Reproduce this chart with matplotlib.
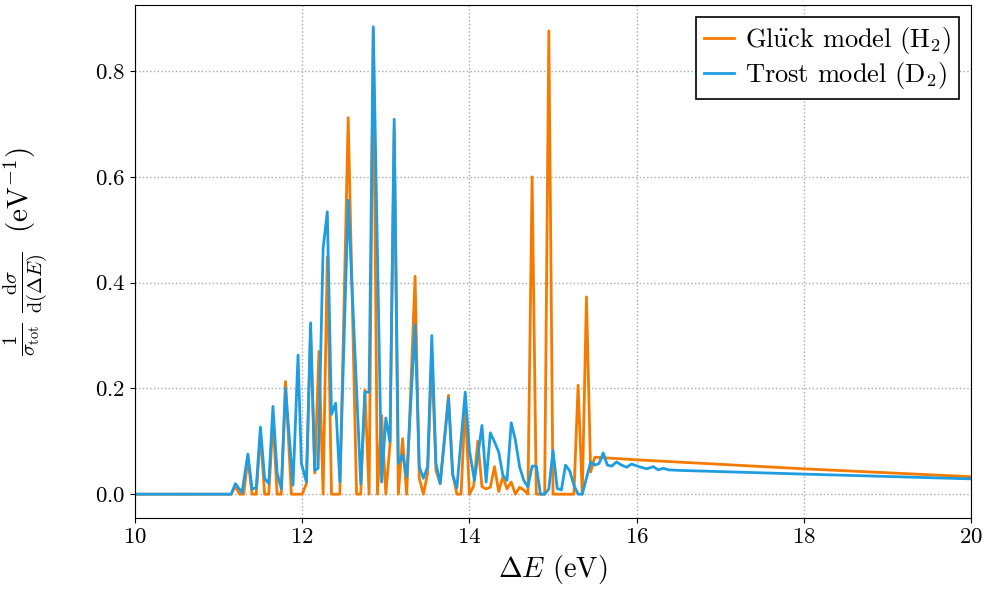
import numpy as np
import matplotlib.pyplot as plt

plt.rcParams['font.family'] = 'serif'
plt.rcParams['font.serif'] = ['cmr10', 'DejaVu Serif']
plt.rcParams['mathtext.fontset'] = 'cm'
plt.rcParams['axes.formatter.use_mathtext'] = True

# Glueck model (H2)
E_glueck = [10.0, 11.15, 11.20, 11.25, 11.30, 11.35, 11.40, 11.45, 11.50, 11.55,
            11.60, 11.65, 11.70, 11.75, 11.80, 11.87, 12.00, 12.05, 12.10, 12.15,
            12.20, 12.25, 12.30, 12.35, 12.45, 12.55, 12.65, 12.70, 12.75, 12.80,
            12.85, 12.90, 12.95, 13.00, 13.05, 13.10, 13.15, 13.20, 13.25, 13.35,
            13.40, 13.45, 13.50, 13.55, 13.60, 13.65, 13.75, 13.80, 13.85, 13.90,
            13.95, 14.00, 14.05, 14.10, 14.15, 14.20, 14.25, 14.30, 14.35, 14.40,
            14.45, 14.50, 14.55, 14.60, 14.65, 14.70, 14.75, 14.80, 14.90, 14.95,
            15.00, 15.25, 15.30, 15.35, 15.40, 15.45, 15.50, 16.0, 18.0, 20.0]
sig_glueck = [0.0, 0.0, 0.015, 0.0, 0.0, 0.068, 0.0, 0.0, 0.115, 0.0,
              0.0, 0.14, 0.0, 0.0, 0.213, 0.0, 0.0, 0.02, 0.31, 0.04,
              0.27, 0.0, 0.449, 0.0, 0.0, 0.712, 0.0, 0.0, 0.197, 0.0,
              0.88, 0.0, 0.149, 0.0, 0.095, 0.69, 0.0, 0.105, 0.0, 0.412,
              0.03, 0.0, 0.04, 0.26, 0.045, 0.02, 0.187, 0.038, 0.0, 0.0,
              0.17, 0.0, 0.015, 0.10, 0.014, 0.01, 0.013, 0.052, 0.005, 0.033,
              0.01, 0.023, 0.0, 0.013, 0.008, 0.0, 0.60, 0.0, 0.0, 0.876,
              0.0, 0.0, 0.206, 0.0, 0.373, 0.042, 0.07, 0.065, 0.048, 0.033]

# Trost model (D2)
E_trost = [10.0, 11.15, 11.20, 11.28, 11.35, 11.40, 11.45, 11.50, 11.55, 11.60,
           11.65, 11.70, 11.75, 11.80, 11.89, 11.95, 11.99, 12.05, 12.10, 12.15,
           12.19, 12.25, 12.30, 12.35, 12.40, 12.45, 12.55, 12.70, 12.75, 12.80,
           12.85, 12.95, 13.00, 13.05, 13.10, 13.15, 13.20, 13.25, 13.35, 13.40,
           13.45, 13.50, 13.55, 13.60, 13.65, 13.75, 13.80, 13.85, 13.95, 14.00,
           14.06, 14.15, 14.20, 14.25, 14.30, 14.35, 14.40, 14.45, 14.50, 14.55,
           14.60, 14.65, 14.70, 14.75, 14.80, 14.85, 14.90, 14.95, 15.00, 15.05,
           15.10, 15.15, 15.20, 15.25, 15.30, 15.35, 15.45, 15.50, 15.55, 15.60,
           15.65, 15.70, 15.76, 15.82, 15.88, 15.94, 16.03, 16.12, 16.20, 16.26,
           16.32, 16.38, 16.52, 18.0, 20.0]
sig_trost = [0.0, 0.0, 0.02, 0.003, 0.076, 0.01, 0.012, 0.127, 0.03, 0.02,
             0.166, 0.04, 0.01, 0.20, 0.017, 0.263, 0.058, 0.023, 0.324, 0.045,
             0.049, 0.465, 0.534, 0.151, 0.172, 0.023, 0.556, 0.02, 0.193, 0.193,
             0.884, 0.023, 0.144, 0.099, 0.709, 0.058, 0.074, 0.033, 0.321, 0.052,
             0.03, 0.052, 0.30, 0.058, 0.02, 0.181, 0.036, 0.012, 0.193, 0.083,
             0.026, 0.13, 0.023, 0.116, 0.099, 0.08, 0.036, 0.026, 0.135, 0.102,
             0.052, 0.026, 0.014, 0.053, 0.053, 0.0, 0.0, 0.01, 0.083, 0.011,
             0.008, 0.055, 0.044, 0.017, 0.0, 0.0, 0.061, 0.055, 0.058, 0.078,
             0.055, 0.053, 0.061, 0.055, 0.051, 0.057, 0.052, 0.048, 0.052, 0.046,
             0.049, 0.046, 0.045, 0.038, 0.029]

fig = plt.figure(figsize=(9.87, 5.98), dpi=100)
ax = fig.add_axes([0.1368, 0.1338, 0.847, 0.8578])

ax.plot(E_glueck, sig_glueck, color='#f57a00', lw=2,
        label=r'Gl$\ddot{\rm u}$ck model (H$_2$)')
ax.plot(E_trost, sig_trost, color='#1e9de3', lw=2,
        label=r'Trost model (D$_2$)')

ax.set_xlim(10, 20)
ax.set_ylim(-0.045, 0.925)
ax.set_xticks([10, 12, 14, 16, 18, 20])
ax.set_yticks([0.0, 0.2, 0.4, 0.6, 0.8])
ax.tick_params(labelsize=16.5)
ax.grid(True, linestyle=':', color='#aaaaaa', lw=1)

ax.set_xlabel(r'$\Delta E$ (eV)', fontsize=20.5)
ax.set_ylabel(r'$\frac{1}{\sigma_{\rm tot}}\ \frac{{\rm d}\sigma}{{\rm d}(\Delta E)}\ \ ({\rm eV}^{-1})$',
              fontsize=21)
ax.yaxis.set_label_coords(-0.102, 0.52)

leg = ax.legend(loc='upper right', fontsize=19, fancybox=False, framealpha=1,
                edgecolor='black', handlelength=1.15, handletextpad=0.4,
                borderpad=0.3, labelspacing=0.15, borderaxespad=0.45)
leg.get_frame().set_linewidth(1.2)

plt.savefig('out.png', dpi=100)
